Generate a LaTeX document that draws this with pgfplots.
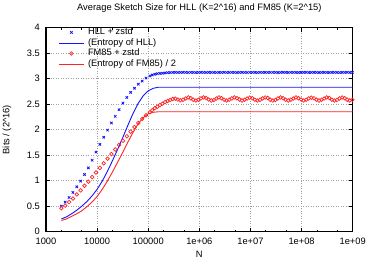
\documentclass[border=0pt]{standalone}
\usepackage{fontspec}
\setmainfont{Liberation Sans}
\usepackage{pgfplots}
\pgfplotsset{compat=1.18}
\definecolor{gpblue}{RGB}{20,20,255}
\definecolor{gpred}{RGB}{255,35,35}
\definecolor{gridgray}{RGB}{160,160,160}
\pgfplotsset{
  allleg/.style={legend image code/.code={\draw[mark repeat=2, mark phase=2, ##1] plot coordinates {(0bp,0bp) (12.5bp,0bp) (25bp,0bp)};}},
}
\begin{document}
\fontsize{9.3bp}{11bp}\selectfont
\begin{tikzpicture}
\begin{axis}[
  scale only axis,
  width=306.7bp, height=204.2bp,
  xmin=3, xmax=9, ymin=0, ymax=4,
  xtick={3,4,5,6,7,8,9},
  xticklabels={1000,10000,100000,1e+06,1e+07,1e+08,1e+09},
  minor xtick={3.301,3.699,4.301,4.699,5.301,5.699,6.301,6.699,7.301,7.699,8.301,8.699},
  ytick={0,0.5,1,1.5,2,2.5,3,3.5,4},
  yticklabels={0,0.5,1,1.5,2,2.5,3,3.5,4},
  /pgf/number format/assume math mode=true,
  axis line style={line width=1.4bp, black},
  tick style={black, line width=0.8bp},
  major tick length=4bp,
  minor tick length=2bp,
  tick align=inside,
  xmajorgrids, ymajorgrids,
  grid style={gridgray, line width=0.5bp, dash pattern=on 1bp off 1.5bp},
  yticklabel style={anchor=east, inner xsep=0pt, xshift=-6bp},
  xticklabel style={anchor=base, yshift=-13.2bp},
  title={Average Sketch Size for HLL (K=2\^{}16) and FM85 (K=2\^{}15)},
  title style={at={(axis description cs:0.5,1.053)}, anchor=base, inner sep=0pt, yshift=0pt},
  xlabel={N},
  xlabel style={at={(axis description cs:0.5,-0.125)}, anchor=base, inner sep=0pt},
  ylabel={Bits / (2\^{}16)},
  ylabel style={at={(axis description cs:-0.127,0.5)}, anchor=center, inner sep=0pt},
  allleg,
  legend cell align=left,
  legend style={draw=none, fill=none, at={(axis description cs:0.04,0.997)}, anchor=north west,
    inner sep=0pt, row sep=2.2bp,
    nodes={inner sep=0pt, text height=6.5bp, text depth=1.8bp},
    /tikz/every odd column/.append style={column sep=3.7bp}},
]
\addplot[gpblue, only marks, mark=x, mark size=1.7bp, line width=0.8bp]
  table {
3.301 0.50
3.376 0.58
3.452 0.67
3.527 0.77
3.602 0.88
3.677 0.99
3.753 1.12
3.828 1.25
3.903 1.40
3.978 1.56
4.054 1.71
4.129 1.85
4.204 1.99
4.280 2.13
4.355 2.26
4.430 2.39
4.505 2.52
4.581 2.63
4.656 2.73
4.731 2.81
4.806 2.89
4.882 2.95
4.957 3.01
5.032 3.05
5.078 3.07
5.128 3.085
5.178 3.095
5.229 3.10
5.279 3.105
5.329 3.11
5.379 3.115
5.429 3.118
5.480 3.12
5.530 3.121
5.580 3.119
5.630 3.12
5.680 3.122
5.731 3.12
5.781 3.119
5.831 3.121
5.881 3.12
5.931 3.118
5.982 3.12
6.032 3.122
6.082 3.12
6.132 3.119
6.182 3.121
6.233 3.12
6.283 3.12
6.333 3.118
6.383 3.121
6.433 3.12
6.484 3.122
6.534 3.119
6.584 3.12
6.634 3.121
6.684 3.12
6.735 3.118
6.785 3.12
6.835 3.122
6.885 3.12
6.935 3.119
6.986 3.121
7.036 3.12
7.086 3.12
7.136 3.118
7.186 3.121
7.237 3.12
7.287 3.122
7.337 3.119
7.387 3.12
7.437 3.121
7.488 3.12
7.538 3.118
7.588 3.12
7.638 3.122
7.688 3.12
7.739 3.119
7.789 3.121
7.839 3.12
7.889 3.12
7.939 3.118
7.990 3.121
8.040 3.12
8.090 3.122
8.140 3.119
8.190 3.12
8.241 3.121
8.291 3.12
8.341 3.118
8.391 3.12
8.441 3.122
8.492 3.12
8.542 3.119
8.592 3.121
8.642 3.12
8.692 3.12
8.743 3.118
8.793 3.121
8.843 3.12
8.893 3.122
8.943 3.119
8.994 3.12
};
\addlegendentry{HLL + zstd}
\addplot[gpblue, line width=0.9bp, no marks]
  table {
3.301 0.25
3.4 0.29
3.5 0.35
3.6 0.42
3.7 0.50
3.8 0.59
3.9 0.70
4.0 0.83
4.1 0.99
4.2 1.18
4.3 1.39
4.4 1.61
4.5 1.84
4.6 2.08
4.7 2.31
4.8 2.51
4.9 2.66
5.0 2.76
5.1 2.81
5.2 2.83
9.0 2.83
};
\addlegendentry{(Entropy of HLL)}
\addplot[gpred, only marks, mark=o, mark size=1.8bp, line width=0.7bp]
  table {
3.301 0.46
3.376 0.51
3.452 0.58
3.527 0.65
3.602 0.73
3.677 0.81
3.753 0.90
3.828 0.98
3.903 1.07
3.978 1.16
4.054 1.25
4.129 1.34
4.204 1.43
4.280 1.52
4.355 1.61
4.430 1.70
4.505 1.78
4.581 1.87
4.656 1.96
4.731 2.05
4.806 2.13
4.882 2.21
4.957 2.28
5.032 2.34
5.078 2.38
5.128 2.42
5.178 2.45
5.229 2.48
5.279 2.51
5.329 2.54
5.379 2.56
5.429 2.58
5.480 2.60
5.530 2.605
5.580 2.59
5.630 2.575
5.680 2.585
5.731 2.61
5.781 2.63
5.831 2.615
5.881 2.585
5.931 2.57
5.982 2.585
6.032 2.61
6.082 2.63
6.132 2.62
6.182 2.59
6.233 2.57
6.283 2.58
6.333 2.61
6.383 2.63
6.433 2.615
6.484 2.585
6.534 2.57
6.584 2.585
6.634 2.61
6.684 2.63
6.735 2.615
6.785 2.59
6.835 2.57
6.885 2.585
6.935 2.61
6.986 2.625
7.036 2.615
7.086 2.585
7.136 2.57
7.186 2.585
7.237 2.61
7.287 2.63
7.337 2.62
7.387 2.585
7.437 2.57
7.488 2.58
7.538 2.61
7.588 2.63
7.638 2.615
7.688 2.585
7.739 2.57
7.789 2.585
7.839 2.61
7.889 2.63
7.939 2.615
7.990 2.59
8.040 2.57
8.090 2.585
8.140 2.61
8.190 2.625
8.241 2.615
8.291 2.585
8.341 2.57
8.391 2.585
8.441 2.61
8.492 2.63
8.542 2.62
8.592 2.585
8.642 2.57
8.692 2.58
8.743 2.61
8.793 2.63
8.843 2.615
8.893 2.585
8.943 2.57
8.994 2.585
};
\addlegendentry{FM85 + zstd}
\addplot[gpred, line width=0.9bp, no marks]
  table {
3.301 0.22
3.4 0.25
3.5 0.30
3.6 0.35
3.7 0.41
3.8 0.49
3.9 0.58
4.0 0.69
4.1 0.83
4.2 0.99
4.3 1.17
4.4 1.36
4.5 1.55
4.6 1.75
4.7 1.94
4.8 2.11
4.9 2.23
5.0 2.31
5.1 2.34
5.2 2.35
9.0 2.35
};
\addlegendentry{(Entropy of FM85) / 2}
\coordinate (bl) at (rel axis cs:0,0);
\coordinate (tr) at (rel axis cs:1,1);
\end{axis}
\pgfresetboundingbox
\path[use as bounding box] ([shift={(-46bp,-30.3bp)}]bl) rectangle ([shift={(21.3bp,27.5bp)}]tr);
\end{tikzpicture}
\end{document}
